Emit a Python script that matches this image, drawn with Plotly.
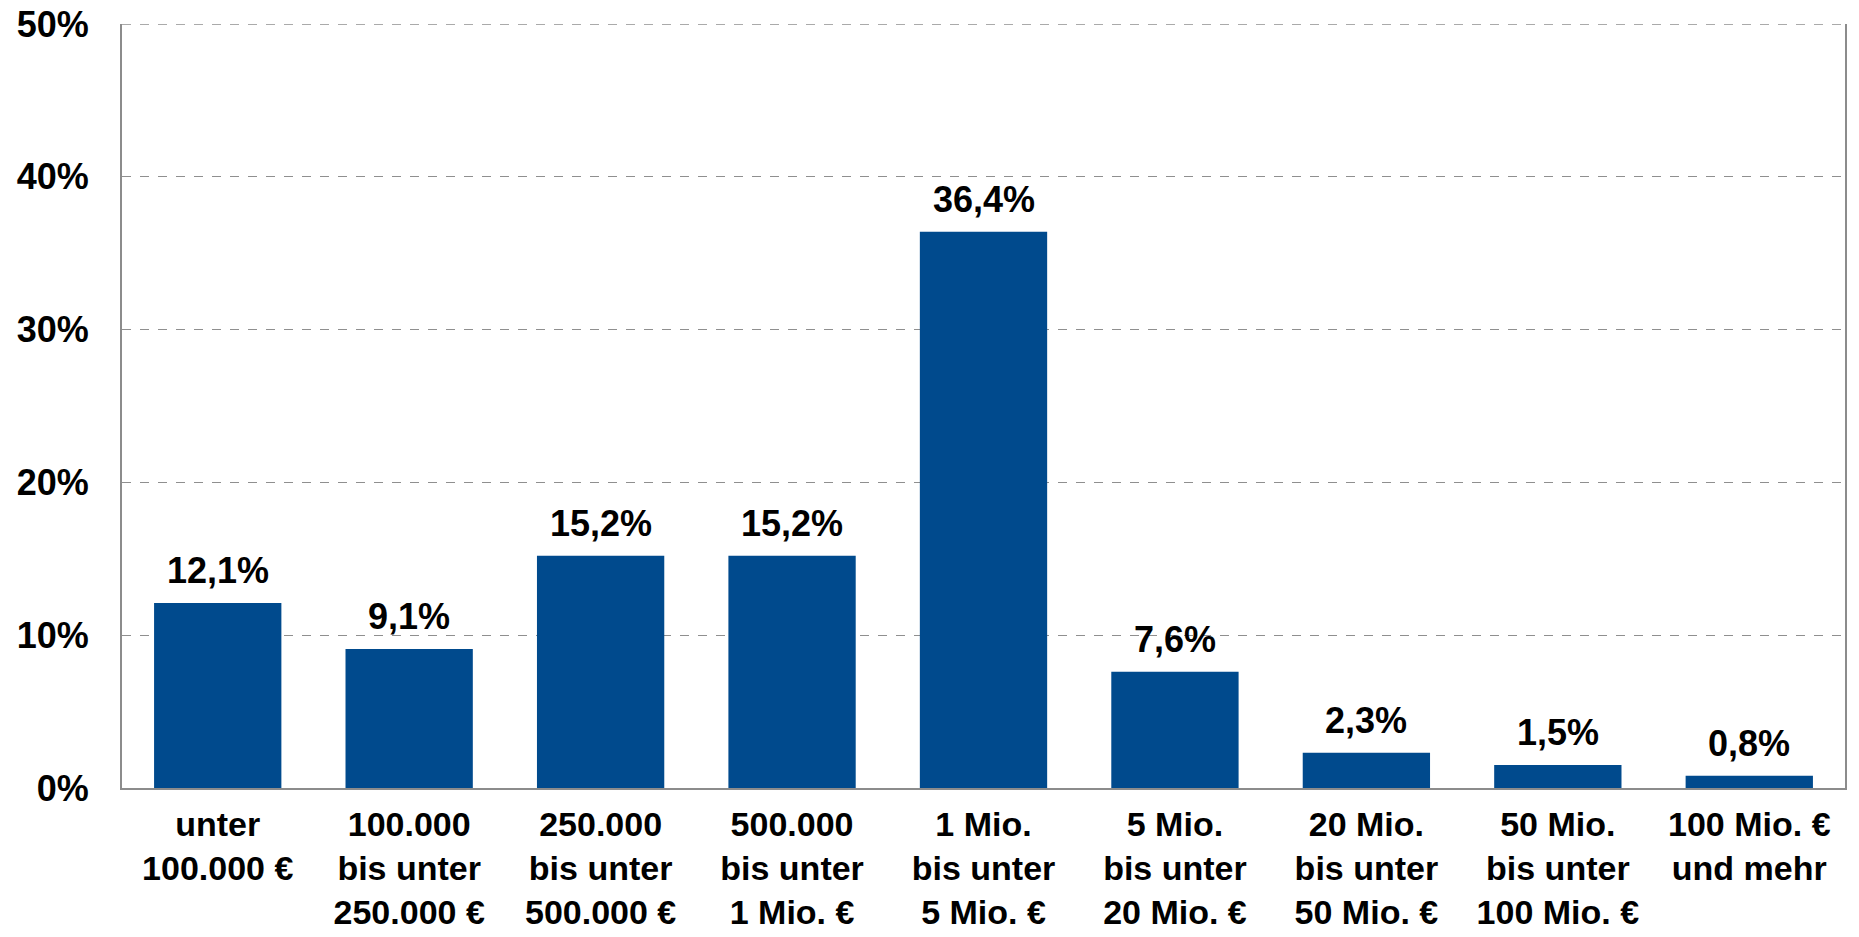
import plotly.graph_objects as go

categories = [
    "unter<br>100.000 €",
    "100.000<br>bis unter<br>250.000 €",
    "250.000<br>bis unter<br>500.000 €",
    "500.000<br>bis unter<br>1 Mio. €",
    "1 Mio.<br>bis unter<br>5 Mio. €",
    "5 Mio.<br>bis unter<br>20 Mio. €",
    "20 Mio.<br>bis unter<br>50 Mio. €",
    "50 Mio.<br>bis unter<br>100 Mio. €",
    "100 Mio. €<br>und mehr",
]
values = [12.1, 9.1, 15.2, 15.2, 36.4, 7.6, 2.3, 1.5, 0.8]
value_labels = ["12,1%", "9,1%", "15,2%", "15,2%", "36,4%", "7,6%", "2,3%", "1,5%", "0,8%"]
y_ticks = [0, 10, 20, 30, 40, 50]
y_tick_labels = ["0%", "10%", "20%", "30%", "40%", "50%"]
y_max = 50

FONT = "Liberation Sans, Arial, sans-serif"
BAR_COLOR = "#004A8D"
GRID = "#8F8F8F"

fig = go.Figure()
fig.add_trace(go.Bar(
    x=categories,
    y=values,
    marker=dict(color=BAR_COLOR, line=dict(width=0)),
    width=0.665,
    hoverinfo="skip",
))

for c, v, t in zip(categories, values, value_labels):
    fig.add_annotation(
        x=c, y=v, text="<b>" + t + "</b>", showarrow=False,
        xref="x", yref="y", yanchor="bottom", yshift=10,
        font=dict(family=FONT, size=36, color="black"),
    )

# dashed top border (gridline at the top of the range)
fig.add_shape(
    type="line", xref="paper", yref="y", x0=0, x1=1, y0=y_max, y1=y_max,
    line=dict(color=GRID, width=1.5, dash="dash"),
)

fig.update_layout(
    width=1859, height=937,
    margin=dict(l=122, r=14, t=24, b=149),
    paper_bgcolor="white", plot_bgcolor="white",
    showlegend=False,
    font=dict(family=FONT, color="black"),
)
fig.update_xaxes(
    tickvals=categories,
    ticktext=["<b>" + c + "</b>" for c in categories],
    tickfont=dict(family=FONT, size=34, color="black"),
    showline=True, linecolor="#8C8C8C", linewidth=2,
    showgrid=False, ticks="", ticklabelstandoff=5,
    automargin=False, ticklabeloverflow="allow",
)
fig.update_yaxes(
    range=[0, y_max],
    tickvals=y_ticks,
    ticktext=["<b>" + t + "</b>" for t in y_tick_labels],
    tickfont=dict(family=FONT, size=36, color="black"),
    showline=True, linecolor="#8C8C8C", linewidth=2, mirror=True,
    showgrid=True, gridcolor=GRID, griddash="dash", gridwidth=1,
    zeroline=False, ticks="", ticklabelstandoff=24,
    automargin=False, ticklabeloverflow="allow",
)

fig.write_html(
    "out.html",
    config={"displayModeBar": False},
    post_script="document.body.style.margin='0';",
)
